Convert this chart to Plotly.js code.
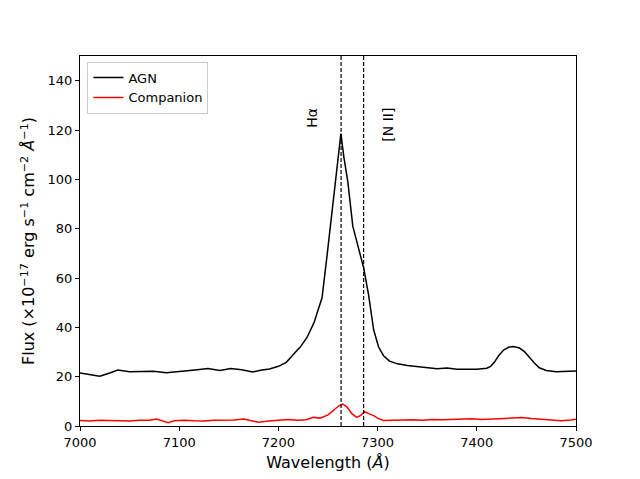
<!DOCTYPE html>
<html>
<head>
<meta charset="utf-8">
<script src="https://cdn.plot.ly/plotly-3.0.1.min.js"></script>
<style>
  html, body { margin: 0; padding: 0; background: #fff; }
  #chart { width: 640px; height: 479px; }
</style>
</head>
<body>
<div id="chart"></div>
<script>
// AGN spectrum
const agnWave = [7000, 7010, 7020, 7030, 7038, 7050, 7062, 7074, 7087, 7098, 7108, 7118, 7129, 7141,
  7152, 7163, 7174, 7182, 7191, 7200, 7208, 7215, 7222, 7229, 7236, 7240, 7244, 7249, 7254, 7258,
  7263, 7266, 7270, 7275, 7280, 7286, 7291, 7296, 7301, 7306, 7312, 7320, 7330, 7340, 7350, 7360,
  7370, 7380, 7390, 7400, 7410, 7414, 7418, 7422, 7427, 7432, 7437, 7443, 7448, 7453, 7458, 7463,
  7470, 7480, 7490, 7500];
const agnFlux = [21.5, 20.8, 20.2, 21.5, 22.7, 22.0, 22.0, 22.2, 21.6, 21.9, 22.4, 22.8, 23.3, 22.5,
  23.3, 22.8, 21.9, 22.6, 23.1, 24.2, 25.8, 29.0, 32.0, 36.0, 42.0, 47.0, 52.0, 69.0, 87.0, 101.0,
  118.5, 109.0, 99.0, 81.0, 73.0, 64.0, 53.0, 39.0, 32.0, 28.5, 26.3, 25.2, 24.5, 24.0, 23.6, 23.2,
  23.5, 23.0, 23.0, 23.0, 23.4, 24.2, 26.0, 28.5, 30.8, 31.9, 32.2, 31.6, 30.2, 27.8, 25.5, 23.6,
  22.5, 22.0, 22.2, 22.3];

// Companion spectrum
const compWave = [7000, 7010, 7020, 7030, 7040, 7050, 7060, 7070, 7077, 7083, 7089, 7095, 7105, 7115,
  7125, 7135, 7145, 7155, 7165, 7172, 7180, 7190, 7200, 7210, 7220, 7228, 7235, 7242, 7250, 7256,
  7261, 7265, 7269, 7274, 7279, 7283, 7287, 7291, 7296, 7301, 7306, 7315, 7325, 7335, 7345, 7355,
  7365, 7375, 7385, 7395, 7405, 7415, 7425, 7435, 7445, 7455, 7465, 7475, 7485, 7495, 7500];
const compFlux = [2.2, 2.0, 2.3, 2.1, 2.2, 2.0, 2.3, 2.3, 2.8, 2.2, 1.3, 2.1, 2.3, 2.1,
  2.0, 2.3, 2.2, 2.4, 2.8, 2.3, 1.5, 2.0, 2.2, 2.6, 2.3, 2.5, 3.5, 3.2, 4.5, 6.5,
  8.2, 8.9, 7.8, 5.0, 3.5, 4.3, 5.8, 5.0, 4.2, 3.0, 2.2, 2.3, 2.5, 2.5, 2.3, 2.6,
  2.5, 2.6, 2.5, 2.9, 2.6, 2.8, 3.3, 3.5, 3.4, 3.0, 2.6, 2.3, 2.1, 2.4, 2.7];

// emission lines (observed wavelength)
const lineNames = ['Hα', '[N II]'];
const lineWave = [7263.2, 7285.9];
const labelOffset = [-29, 25];

const traces = [
  { x: agnWave, y: agnFlux, mode: 'lines', name: 'AGN', line: { color: 'black', width: 1.5 } },
  { x: compWave, y: compFlux, mode: 'lines', name: 'Companion', line: { color: 'red', width: 1.5 } }
];

const shapes = lineWave.map(w => ({
  type: 'line', xref: 'x', yref: 'paper', x0: w, x1: w, y0: 0, y1: 1,
  line: { color: 'black', width: 1.2, dash: '4px,2px' }
}));

const annotations = lineWave.map((w, i) => ({
  x: w + labelOffset[i], y: 130, xref: 'x', yref: 'y',
  text: lineNames[i], showarrow: false, textangle: -90,
  xanchor: 'center', yanchor: 'top',
  font: { family: 'DejaVu Sans', size: 14, color: 'black' }
}));

const axisCommon = {
  showgrid: false, zeroline: false, showline: true, linecolor: 'black', linewidth: 1,
  mirror: true, ticks: 'outside', ticklen: 4, tickcolor: 'black',
  tickfont: { family: 'DejaVu Sans', size: 13, color: 'black' }
};

const layout = {
  width: 640, height: 479,
  margin: { l: 80, r: 64, t: 56, b: 53 },
  paper_bgcolor: 'white', plot_bgcolor: 'white',
  font: { family: 'DejaVu Sans', color: 'black' },
  xaxis: Object.assign({}, axisCommon, {
    range: [7000, 7500], dtick: 100,
    title: { text: 'Wavelength (<i>Å</i>)', font: { size: 16 }, standoff: 8 }
  }),
  yaxis: Object.assign({}, axisCommon, {
    range: [0, 150], dtick: 20,
    title: { text: 'Flux (×10<sup>−17</sup> erg s<sup>−1</sup> cm<sup>−2</sup> <i>Å</i><sup>−1</sup>)', font: { size: 16 }, standoff: 8 }
  }),
  legend: {
    x: 0.015, y: 0.985, xanchor: 'left', yanchor: 'top',
    bgcolor: 'rgba(255,255,255,0.8)', bordercolor: '#cccccc', borderwidth: 1,
    font: { family: 'DejaVu Sans', size: 13 }, tracegroupgap: 0
  },
  shapes: shapes,
  annotations: annotations,
  showlegend: true
};

Plotly.newPlot('chart', traces, layout, { staticPlot: true });
</script>
</body>
</html>
